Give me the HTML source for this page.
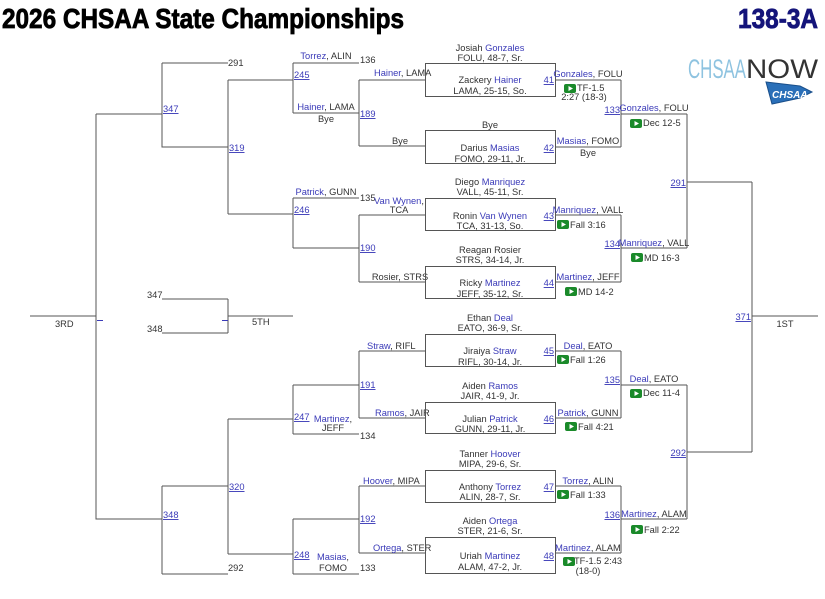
<!DOCTYPE html>
<html><head><meta charset="utf-8"><style>
html,body{margin:0;padding:0;background:#fff;}
svg{display:block;}
text{font-family:"Liberation Sans",Arial,sans-serif;font-size:9.3px;fill:#333;}
.b{fill:#3a3ab8;}
.u{fill:#3a3ab8;text-decoration:underline;}
.c{text-anchor:middle;}
.r{text-anchor:end;}
line,path.ln{stroke:#555;stroke-width:1;fill:none;shape-rendering:crispEdges;}
rect.bx{fill:none;stroke:#555;stroke-width:1;shape-rendering:crispEdges;}
</style></head><body>
<svg width="825" height="599" viewBox="0 0 825 599" xmlns="http://www.w3.org/2000/svg">
<defs>
<g id="pl"><rect x="0" y="0" width="12" height="9" rx="2" style="fill:#1a8a2a"/><path d="M4.5 2 L9 4.5 L4.5 7 Z" style="fill:#fff;stroke:none"/></g>
</defs>
<!-- Title -->
<text x="2" y="28" style="font-family:'Liberation Sans Narrow','Liberation Sans',sans-serif;font-weight:bold;font-size:28px;fill:#000;stroke:#000;stroke-width:0.8" textLength="402" lengthAdjust="spacingAndGlyphs">2026 CHSAA State Championships</text>
<text x="818" y="28" class="r" style="font-family:'Liberation Sans Narrow','Liberation Sans',sans-serif;font-weight:bold;font-size:28px;fill:#14147a;stroke:#14147a;stroke-width:0.8" textLength="80" lengthAdjust="spacingAndGlyphs">138-3A</text>
<!-- Logo -->
<text x="688" y="78" style="font-size:27px;fill:#8ec3e0;font-weight:normal" textLength="58" lengthAdjust="spacingAndGlyphs">CHSAA</text>
<text x="746" y="78" style="font-size:27px;fill:#333" textLength="72" lengthAdjust="spacingAndGlyphs">NOW</text>
<path d="M766 82 L800 86 L812 92 L800 98 L772 104 Z" style="fill:#2a6fb8;stroke:#1a4f8a"/>
<text x="772" y="98" style="font-size:10px;fill:#fff;font-weight:bold;font-style:italic">CHSAA</text>

<!-- left consolation -->
<path class="ln" d="M162 63 H228 M162 63 V147 H228 M96 114 H162 M96 114 V519 H162"/>
<text x="228" y="66">291</text>
<text x="163" y="112" class="u">347</text>
<path class="ln" d="M228 80 V214 M228 80 H293 M228 214 H293"/>
<text x="229" y="151" class="u">319</text>
<path class="ln" d="M293 63 V113 M293 63 H359 M293 113 H359"/>
<text x="326" y="59" class="c"><tspan class="b">Torrez</tspan>, ALIN</text>
<text x="360" y="63">136</text>
<text x="326" y="110" class="c"><tspan class="b">Hainer</tspan>, LAMA</text>
<text x="326" y="122" class="c">Bye</text>
<text x="294" y="78" class="u">245</text>
<path class="ln" d="M359 80 V146 M359 80 H425 M359 146 H425"/>
<text x="374" y="76"><tspan class="b">Hainer</tspan>, LAMA</text>
<text x="400" y="144" class="c">Bye</text>
<text x="360" y="117" class="u">189</text>
<path class="ln" d="M293 198 V248 M293 198 H359 M293 248 H359"/>
<text x="326" y="195" class="c"><tspan class="b">Patrick</tspan>, GUNN</text>
<text x="360" y="201">135</text>
<text x="294" y="213" class="u">246</text>
<path class="ln" d="M359 215 V282 M359 215 H425 M359 282 H425"/>
<text x="399" y="204" class="c"><tspan class="b">Van Wynen</tspan>,</text>
<text x="399" y="213" class="c">TCA</text>
<text x="400" y="280" class="c">Rosier, STRS</text>
<text x="360" y="251" class="u">190</text>

<!-- 3rd / 5th -->
<path class="ln" d="M162 299 H228 M162 333 H228 M228 299 V333 M228 316 H293 M30 316 H96"/>
<text x="147" y="298">347</text>
<text x="147" y="332">348</text>
<text x="252" y="325">5TH</text>
<text x="55" y="327">3RD</text>
<path class="ln" d="M222 320.5 H228 M97 320.5 H103" style="stroke:#3a3ab8"/>

<!-- left bottom -->
<path class="ln" d="M162 486 V574 M162 486 H228 M162 574 H228"/>
<text x="163" y="518" class="u">348</text>
<text x="228" y="571">292</text>
<path class="ln" d="M228 419 V554 M228 419 H293 M228 554 H293"/>
<text x="229" y="490" class="u">320</text>
<path class="ln" d="M293 385 V434 M293 385 H359 M293 434 H359"/>
<text x="294" y="420" class="u">247</text>
<text x="333" y="422" class="c"><tspan class="b">Martinez</tspan>,</text>
<text x="333" y="431" class="c">JEFF</text>
<text x="360" y="439">134</text>
<path class="ln" d="M359 351 V418 M359 351 H425 M359 418 H425"/>
<text x="367" y="349"><tspan class="b">Straw</tspan>, RIFL</text>
<text x="375" y="416"><tspan class="b">Ramos</tspan>, JAIR</text>
<text x="360" y="388" class="u">191</text>
<path class="ln" d="M293 519 V574 M293 519 H359 M293 574 H359"/>
<text x="294" y="558" class="u">248</text>
<text x="333" y="560" class="c"><tspan class="b">Masias</tspan>,</text>
<text x="333" y="571" class="c">FOMO</text>
<text x="360" y="571">133</text>
<path class="ln" d="M359 486 V553 M359 486 H425 M359 553 H425"/>
<text x="363" y="484"><tspan class="b">Hoover</tspan>, MIPA</text>
<text x="373" y="551"><tspan class="b">Ortega</tspan>, STER</text>
<text x="360" y="522" class="u">192</text>

<!-- boxes -->
<rect class="bx" x="425.5" y="63.5" width="130" height="33"/>
<text x="490" y="51" class="c">Josiah <tspan class="b">Gonzales</tspan></text>
<text x="490" y="61" class="c">FOLU, 48-7, Sr.</text>
<text x="490" y="83" class="c">Zackery <tspan class="b">Hainer</tspan></text>
<text x="490" y="94" class="c">LAMA, 25-15, So.</text>
<text x="554" y="83" class="u r">41</text>

<rect class="bx" x="425.5" y="130.5" width="130" height="33"/>
<text x="490" y="128" class="c">Bye</text>
<text x="490" y="151" class="c">Darius <tspan class="b">Masias</tspan></text>
<text x="490" y="162" class="c">FOMO, 29-11, Jr.</text>
<text x="554" y="151" class="u r">42</text>

<rect class="bx" x="425.5" y="198.5" width="130" height="32"/>
<text x="490" y="185" class="c">Diego <tspan class="b">Manriquez</tspan></text>
<text x="490" y="195" class="c">VALL, 45-11, Sr.</text>
<text x="490" y="219" class="c">Ronin <tspan class="b">Van Wynen</tspan></text>
<text x="490" y="229" class="c">TCA, 31-13, So.</text>
<text x="554" y="219" class="u r">43</text>

<rect class="bx" x="425.5" y="266.5" width="130" height="32"/>
<text x="490" y="253" class="c">Reagan Rosier</text>
<text x="490" y="263" class="c">STRS, 34-14, Jr.</text>
<text x="490" y="286" class="c">Ricky <tspan class="b">Martinez</tspan></text>
<text x="490" y="297" class="c">JEFF, 35-12, Sr.</text>
<text x="554" y="286" class="u r">44</text>

<rect class="bx" x="425.5" y="334.5" width="130" height="32"/>
<text x="490" y="321" class="c">Ethan <tspan class="b">Deal</tspan></text>
<text x="490" y="331" class="c">EATO, 36-9, Sr.</text>
<text x="490" y="354" class="c">Jiraiya <tspan class="b">Straw</tspan></text>
<text x="490" y="365" class="c">RIFL, 30-14, Jr.</text>
<text x="554" y="354" class="u r">45</text>

<rect class="bx" x="425.5" y="402.5" width="130" height="31"/>
<text x="490" y="389" class="c">Aiden <tspan class="b">Ramos</tspan></text>
<text x="490" y="399" class="c">JAIR, 41-9, Jr.</text>
<text x="490" y="422" class="c">Julian <tspan class="b">Patrick</tspan></text>
<text x="490" y="432" class="c">GUNN, 29-11, Jr.</text>
<text x="554" y="422" class="u r">46</text>

<rect class="bx" x="425.5" y="470.5" width="130" height="32"/>
<text x="490" y="457" class="c">Tanner <tspan class="b">Hoover</tspan></text>
<text x="490" y="467" class="c">MIPA, 29-6, Sr.</text>
<text x="490" y="490" class="c">Anthony <tspan class="b">Torrez</tspan></text>
<text x="490" y="500" class="c">ALIN, 28-7, Sr.</text>
<text x="554" y="490" class="u r">47</text>

<rect class="bx" x="425.5" y="537.5" width="130" height="36"/>
<text x="490" y="524" class="c">Aiden <tspan class="b">Ortega</tspan></text>
<text x="490" y="534" class="c">STER, 21-6, Sr.</text>
<text x="490" y="559" class="c">Uriah <tspan class="b">Martinez</tspan></text>
<text x="490" y="570" class="c">ALAM, 47-2, Jr.</text>
<text x="554" y="559" class="u r">48</text>

<!-- round 2 -->
<path class="ln" d="M555 80 H621 M555 147 H621 M621 80 V147"/>
<text x="588" y="77" class="c"><tspan class="b">Gonzales</tspan>, FOLU</text>
<use href="#pl" x="564" y="84"/><text x="577" y="91">TF-1.5</text>
<text x="584" y="100" class="c">2:27 (18-3)</text>
<text x="588" y="144" class="c"><tspan class="b">Masias</tspan>, FOMO</text>
<text x="588" y="156" class="c">Bye</text>
<text x="620" y="113" class="u r">133</text>

<path class="ln" d="M555 215 H621 M555 282 H621 M621 215 V282"/>
<text x="588" y="213" class="c"><tspan class="b">Manriquez</tspan>, VALL</text>
<use href="#pl" x="557" y="220"/><text x="570" y="228">Fall 3:16</text>
<text x="588" y="280" class="c"><tspan class="b">Martinez</tspan>, JEFF</text>
<use href="#pl" x="565" y="287"/><text x="578" y="295">MD 14-2</text>
<text x="620" y="247" class="u r">134</text>

<path class="ln" d="M555 351 H621 M555 418 H621 M621 351 V418"/>
<text x="588" y="349" class="c"><tspan class="b">Deal</tspan>, EATO</text>
<use href="#pl" x="557" y="355"/><text x="570" y="363">Fall 1:26</text>
<text x="588" y="416" class="c"><tspan class="b">Patrick</tspan>, GUNN</text>
<use href="#pl" x="565" y="422"/><text x="578" y="430">Fall 4:21</text>
<text x="620" y="383" class="u r">135</text>

<path class="ln" d="M555 486 H621 M555 553 H621 M621 486 V553"/>
<text x="588" y="484" class="c"><tspan class="b">Torrez</tspan>, ALIN</text>
<use href="#pl" x="557" y="490"/><text x="570" y="498">Fall 1:33</text>
<text x="588" y="551" class="c"><tspan class="b">Martinez</tspan>, ALAM</text>
<use href="#pl" x="563" y="557"/><text x="574" y="564">TF-1.5 2:43</text>
<text x="588" y="574" class="c">(18-0)</text>
<text x="620" y="518" class="u r">136</text>

<!-- round 3 -->
<path class="ln" d="M621 114 H687 M621 248 H687 M687 114 V248 M687 182 H752"/>
<text x="654" y="111" class="c"><tspan class="b">Gonzales</tspan>, FOLU</text>
<use href="#pl" x="630" y="119"/><text x="643" y="126">Dec 12-5</text>
<text x="654" y="246" class="c"><tspan class="b">Manriquez</tspan>, VALL</text>
<use href="#pl" x="631" y="253"/><text x="644" y="261">MD 16-3</text>
<text x="686" y="186" class="u r">291</text>

<path class="ln" d="M621 385 H687 M621 519 H687 M687 385 V519 M687 452 H752"/>
<text x="654" y="382" class="c"><tspan class="b">Deal</tspan>, EATO</text>
<use href="#pl" x="630" y="389"/><text x="643" y="396">Dec 11-4</text>
<text x="654" y="517" class="c"><tspan class="b">Martinez</tspan>, ALAM</text>
<use href="#pl" x="631" y="525"/><text x="644" y="533">Fall 2:22</text>
<text x="686" y="456" class="u r">292</text>

<!-- final -->
<path class="ln" d="M752 182 V452 M752 316 H818"/>
<text x="751" y="320" class="u r">371</text>
<text x="785" y="327" class="c">1ST</text>
</svg>
</body></html>
